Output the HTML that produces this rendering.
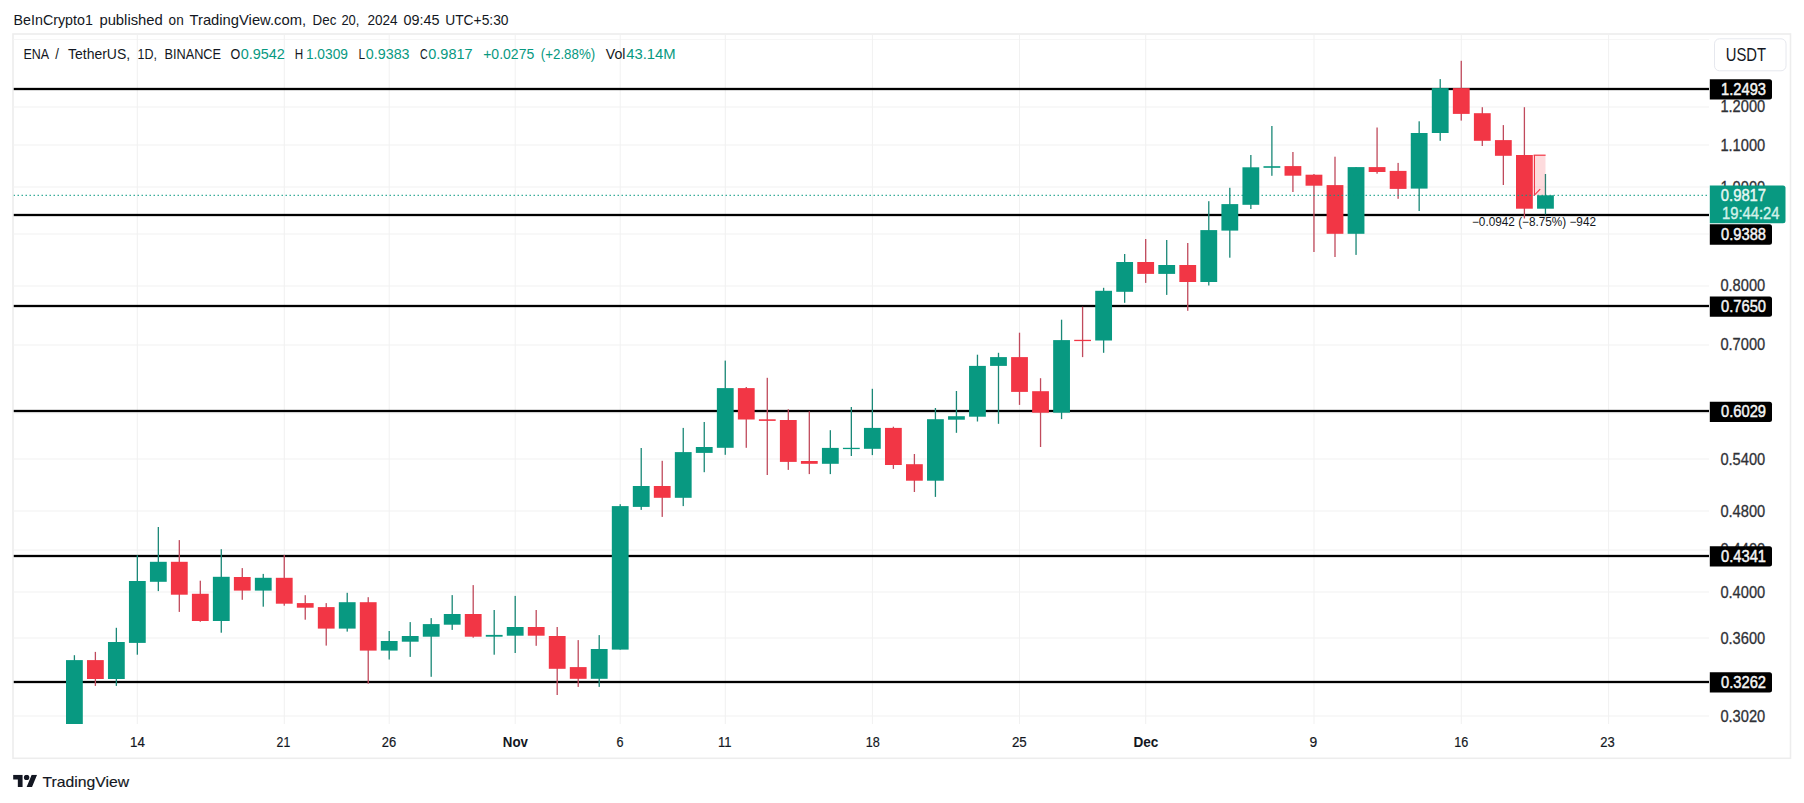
<!DOCTYPE html>
<html><head><meta charset="utf-8"><style>
html,body{margin:0;padding:0;background:#fff;width:1804px;height:803px;overflow:hidden;}
svg{position:absolute;left:0;top:0;font-family:"Liberation Sans", sans-serif;}
</style></head><body>
<svg width="1804" height="803" viewBox="0 0 1804 803">
<rect width="1804" height="803" fill="#fff"/>
<text x="13.60" y="24.8" font-size="15" fill="#131722" textLength="79.28" lengthAdjust="spacingAndGlyphs">BeInCrypto1</text>
<text x="99.40" y="24.8" font-size="15" fill="#131722" textLength="63.42" lengthAdjust="spacingAndGlyphs">published</text>
<text x="168.60" y="24.8" font-size="15" fill="#131722" textLength="15.09" lengthAdjust="spacingAndGlyphs">on</text>
<text x="189.50" y="24.8" font-size="15" fill="#131722" textLength="116.59" lengthAdjust="spacingAndGlyphs">TradingView.com,</text>
<text x="312.60" y="24.8" font-size="15" fill="#131722" textLength="23.78" lengthAdjust="spacingAndGlyphs">Dec</text>
<text x="341.40" y="24.8" font-size="15" fill="#131722" textLength="18.06" lengthAdjust="spacingAndGlyphs">20,</text>
<text x="367.40" y="24.8" font-size="15" fill="#131722" textLength="30.17" lengthAdjust="spacingAndGlyphs">2024</text>
<text x="403.40" y="24.8" font-size="15" fill="#131722" textLength="36.03" lengthAdjust="spacingAndGlyphs">09:45</text>
<text x="445.20" y="24.8" font-size="15" fill="#131722" textLength="63.38" lengthAdjust="spacingAndGlyphs">UTC+5:30</text>
<rect x="13" y="34" width="1777.5" height="724.3" fill="#fff" stroke="#ededed" stroke-width="1.6"/>
<rect x="13.5" y="39" width="1695.5" height="1" fill="#f6f6f6"/>
<defs><clipPath id="pane"><rect x="13.5" y="35" width="1695.5" height="689"/></clipPath></defs>
<g clip-path="url(#pane)">
<rect x="13.5" y="106.5" width="1695.5" height="1" fill="#f1f1f1"/>
<rect x="13.5" y="144.5" width="1695.5" height="1" fill="#f1f1f1"/>
<rect x="13.5" y="186.5" width="1695.5" height="1" fill="#f1f1f1"/>
<rect x="13.5" y="233.5" width="1695.5" height="1" fill="#f1f1f1"/>
<rect x="13.5" y="285.5" width="1695.5" height="1" fill="#f1f1f1"/>
<rect x="13.5" y="344.5" width="1695.5" height="1" fill="#f1f1f1"/>
<rect x="13.5" y="412.5" width="1695.5" height="1" fill="#f1f1f1"/>
<rect x="13.5" y="458.5" width="1695.5" height="1" fill="#f1f1f1"/>
<rect x="13.5" y="510.5" width="1695.5" height="1" fill="#f1f1f1"/>
<rect x="13.5" y="549.5" width="1695.5" height="1" fill="#f1f1f1"/>
<rect x="13.5" y="591.5" width="1695.5" height="1" fill="#f1f1f1"/>
<rect x="13.5" y="637.5" width="1695.5" height="1" fill="#f1f1f1"/>
<rect x="13.5" y="715.5" width="1695.5" height="1" fill="#f1f1f1"/>
<rect x="136.8" y="35" width="1" height="689" fill="#f1f1f1"/>
<rect x="283.8" y="35" width="1" height="689" fill="#f1f1f1"/>
<rect x="388.7" y="35" width="1" height="689" fill="#f1f1f1"/>
<rect x="514.7" y="35" width="1" height="689" fill="#f1f1f1"/>
<rect x="619.7" y="35" width="1" height="689" fill="#f1f1f1"/>
<rect x="724.8" y="35" width="1" height="689" fill="#f1f1f1"/>
<rect x="871.9" y="35" width="1" height="689" fill="#f1f1f1"/>
<rect x="1019.0" y="35" width="1" height="689" fill="#f1f1f1"/>
<rect x="1145.2" y="35" width="1" height="689" fill="#f1f1f1"/>
<rect x="1313.5" y="35" width="1" height="689" fill="#f1f1f1"/>
<rect x="1460.8" y="35" width="1" height="689" fill="#f1f1f1"/>
<rect x="1608.1" y="35" width="1" height="689" fill="#f1f1f1"/>
<rect x="13.5" y="87.85" width="1695.5" height="2.3" fill="#000"/>
<rect x="13.5" y="213.85" width="1695.5" height="2.3" fill="#000"/>
<rect x="13.5" y="304.85" width="1695.5" height="2.3" fill="#000"/>
<rect x="13.5" y="409.85" width="1695.5" height="2.3" fill="#000"/>
<rect x="13.5" y="554.85" width="1695.5" height="2.3" fill="#000"/>
<rect x="13.5" y="680.85" width="1695.5" height="2.3" fill="#000"/>
<rect x="73.75" y="655.2" width="1.3" height="68.8" fill="#1a8877"/>
<rect x="66.00" y="660.1" width="16.8" height="63.9" fill="#089981"/>
<rect x="94.73" y="651.9" width="1.3" height="34.0" fill="#c04a5c"/>
<rect x="86.98" y="660.1" width="16.8" height="18.9" fill="#F23645"/>
<rect x="115.71" y="627.8" width="1.3" height="58.1" fill="#1a8877"/>
<rect x="107.96" y="642.0" width="16.8" height="37.0" fill="#089981"/>
<rect x="136.69" y="555.2" width="1.3" height="99.5" fill="#1a8877"/>
<rect x="128.94" y="581.0" width="16.8" height="61.9" fill="#089981"/>
<rect x="157.68" y="527.0" width="1.3" height="64.1" fill="#1a8877"/>
<rect x="149.93" y="561.8" width="16.8" height="20.0" fill="#089981"/>
<rect x="178.66" y="540.1" width="1.3" height="71.8" fill="#c04a5c"/>
<rect x="170.91" y="561.8" width="16.8" height="32.9" fill="#F23645"/>
<rect x="199.65" y="580.7" width="1.3" height="41.1" fill="#c04a5c"/>
<rect x="191.90" y="593.8" width="16.8" height="27.2" fill="#F23645"/>
<rect x="220.63" y="549.2" width="1.3" height="83.5" fill="#1a8877"/>
<rect x="212.88" y="576.8" width="16.8" height="44.2" fill="#089981"/>
<rect x="241.62" y="568.1" width="1.3" height="31.7" fill="#c04a5c"/>
<rect x="233.87" y="577.0" width="16.8" height="13.6" fill="#F23645"/>
<rect x="262.61" y="573.9" width="1.3" height="32.8" fill="#1a8877"/>
<rect x="254.86" y="577.8" width="16.8" height="12.8" fill="#089981"/>
<rect x="283.60" y="554.9" width="1.3" height="50.8" fill="#c04a5c"/>
<rect x="275.85" y="577.8" width="16.8" height="25.9" fill="#F23645"/>
<rect x="304.59" y="595.2" width="1.3" height="24.5" fill="#c04a5c"/>
<rect x="296.84" y="603.1" width="16.8" height="4.6" fill="#F23645"/>
<rect x="325.58" y="603.1" width="1.3" height="42.5" fill="#c04a5c"/>
<rect x="317.83" y="607.1" width="16.8" height="21.5" fill="#F23645"/>
<rect x="346.57" y="592.8" width="1.3" height="38.8" fill="#1a8877"/>
<rect x="338.82" y="602.2" width="16.8" height="26.4" fill="#089981"/>
<rect x="367.57" y="597.2" width="1.3" height="86.5" fill="#c04a5c"/>
<rect x="359.82" y="602.2" width="16.8" height="48.4" fill="#F23645"/>
<rect x="388.56" y="631.0" width="1.3" height="28.5" fill="#1a8877"/>
<rect x="380.81" y="641.0" width="16.8" height="9.6" fill="#089981"/>
<rect x="409.56" y="622.1" width="1.3" height="34.8" fill="#1a8877"/>
<rect x="401.81" y="636.0" width="16.8" height="5.7" fill="#089981"/>
<rect x="430.55" y="618.1" width="1.3" height="58.7" fill="#1a8877"/>
<rect x="422.80" y="624.1" width="16.8" height="12.6" fill="#089981"/>
<rect x="451.55" y="595.1" width="1.3" height="34.8" fill="#1a8877"/>
<rect x="443.80" y="614.0" width="16.8" height="10.7" fill="#089981"/>
<rect x="472.55" y="585.1" width="1.3" height="52.6" fill="#c04a5c"/>
<rect x="464.80" y="614.0" width="16.8" height="22.7" fill="#F23645"/>
<rect x="493.55" y="610.0" width="1.3" height="44.7" fill="#1a8877"/>
<rect x="485.80" y="634.9" width="16.8" height="1.8" fill="#089981"/>
<rect x="514.55" y="595.9" width="1.3" height="57.1" fill="#1a8877"/>
<rect x="506.80" y="627.0" width="16.8" height="8.7" fill="#089981"/>
<rect x="535.55" y="610.0" width="1.3" height="35.8" fill="#c04a5c"/>
<rect x="527.80" y="627.0" width="16.8" height="8.7" fill="#F23645"/>
<rect x="556.55" y="627.0" width="1.3" height="68.0" fill="#c04a5c"/>
<rect x="548.80" y="636.0" width="16.8" height="32.8" fill="#F23645"/>
<rect x="577.56" y="640.1" width="1.3" height="46.8" fill="#c04a5c"/>
<rect x="569.81" y="667.1" width="16.8" height="11.7" fill="#F23645"/>
<rect x="598.56" y="635.1" width="1.3" height="51.8" fill="#1a8877"/>
<rect x="590.81" y="649.0" width="16.8" height="29.8" fill="#089981"/>
<rect x="619.57" y="504.2" width="1.3" height="145.4" fill="#1a8877"/>
<rect x="611.82" y="506.1" width="16.8" height="143.5" fill="#089981"/>
<rect x="640.57" y="448.0" width="1.3" height="61.9" fill="#1a8877"/>
<rect x="632.82" y="486.0" width="16.8" height="20.9" fill="#089981"/>
<rect x="661.58" y="460.8" width="1.3" height="56.1" fill="#c04a5c"/>
<rect x="653.83" y="486.0" width="16.8" height="11.8" fill="#F23645"/>
<rect x="682.59" y="427.9" width="1.3" height="78.2" fill="#1a8877"/>
<rect x="674.84" y="452.1" width="16.8" height="45.7" fill="#089981"/>
<rect x="703.60" y="422.0" width="1.3" height="50.2" fill="#1a8877"/>
<rect x="695.85" y="447.0" width="16.8" height="5.9" fill="#089981"/>
<rect x="724.61" y="360.6" width="1.3" height="94.2" fill="#1a8877"/>
<rect x="716.86" y="388.1" width="16.8" height="59.7" fill="#089981"/>
<rect x="745.62" y="387.0" width="1.3" height="60.8" fill="#c04a5c"/>
<rect x="737.87" y="388.1" width="16.8" height="31.4" fill="#F23645"/>
<rect x="766.63" y="377.8" width="1.3" height="97.2" fill="#c04a5c"/>
<rect x="758.88" y="419.3" width="16.8" height="1.6" fill="#F23645"/>
<rect x="787.65" y="409.2" width="1.3" height="60.7" fill="#c04a5c"/>
<rect x="779.90" y="420.0" width="16.8" height="41.9" fill="#F23645"/>
<rect x="808.66" y="411.3" width="1.3" height="62.8" fill="#c04a5c"/>
<rect x="800.91" y="461.0" width="16.8" height="2.8" fill="#F23645"/>
<rect x="829.68" y="430.2" width="1.3" height="43.9" fill="#1a8877"/>
<rect x="821.93" y="447.9" width="16.8" height="15.9" fill="#089981"/>
<rect x="850.69" y="407.0" width="1.3" height="49.0" fill="#1a8877"/>
<rect x="842.94" y="447.8" width="16.8" height="1.3" fill="#089981"/>
<rect x="871.71" y="388.8" width="1.3" height="66.3" fill="#1a8877"/>
<rect x="863.96" y="427.9" width="16.8" height="20.9" fill="#089981"/>
<rect x="892.73" y="426.7" width="1.3" height="42.2" fill="#c04a5c"/>
<rect x="884.98" y="427.9" width="16.8" height="37.1" fill="#F23645"/>
<rect x="913.75" y="454.0" width="1.3" height="38.0" fill="#c04a5c"/>
<rect x="906.00" y="464.2" width="16.8" height="16.5" fill="#F23645"/>
<rect x="934.77" y="408.0" width="1.3" height="88.9" fill="#1a8877"/>
<rect x="927.02" y="419.2" width="16.8" height="61.5" fill="#089981"/>
<rect x="955.79" y="391.0" width="1.3" height="41.8" fill="#1a8877"/>
<rect x="948.04" y="416.2" width="16.8" height="3.5" fill="#089981"/>
<rect x="976.81" y="354.7" width="1.3" height="66.8" fill="#1a8877"/>
<rect x="969.06" y="365.9" width="16.8" height="50.8" fill="#089981"/>
<rect x="997.84" y="352.8" width="1.3" height="71.0" fill="#1a8877"/>
<rect x="990.09" y="357.1" width="16.8" height="8.8" fill="#089981"/>
<rect x="1018.86" y="332.7" width="1.3" height="72.2" fill="#c04a5c"/>
<rect x="1011.11" y="357.1" width="16.8" height="34.8" fill="#F23645"/>
<rect x="1039.89" y="378.2" width="1.3" height="68.8" fill="#c04a5c"/>
<rect x="1032.14" y="391.2" width="16.8" height="21.5" fill="#F23645"/>
<rect x="1060.91" y="319.7" width="1.3" height="99.4" fill="#1a8877"/>
<rect x="1053.16" y="340.1" width="16.8" height="72.6" fill="#089981"/>
<rect x="1081.94" y="306.7" width="1.3" height="50.4" fill="#c04a5c"/>
<rect x="1074.19" y="339.8" width="16.8" height="1.3" fill="#F23645"/>
<rect x="1102.97" y="287.8" width="1.3" height="65.0" fill="#1a8877"/>
<rect x="1095.22" y="290.8" width="16.8" height="49.7" fill="#089981"/>
<rect x="1124.00" y="254.0" width="1.3" height="48.8" fill="#1a8877"/>
<rect x="1116.25" y="262.0" width="16.8" height="29.8" fill="#089981"/>
<rect x="1145.03" y="239.0" width="1.3" height="43.9" fill="#c04a5c"/>
<rect x="1137.28" y="262.0" width="16.8" height="11.9" fill="#F23645"/>
<rect x="1166.06" y="240.0" width="1.3" height="54.9" fill="#1a8877"/>
<rect x="1158.31" y="265.0" width="16.8" height="8.9" fill="#089981"/>
<rect x="1187.09" y="243.0" width="1.3" height="67.8" fill="#c04a5c"/>
<rect x="1179.34" y="265.0" width="16.8" height="17.0" fill="#F23645"/>
<rect x="1208.13" y="201.2" width="1.3" height="84.3" fill="#1a8877"/>
<rect x="1200.38" y="230.1" width="16.8" height="51.9" fill="#089981"/>
<rect x="1229.16" y="187.8" width="1.3" height="69.9" fill="#1a8877"/>
<rect x="1221.41" y="204.1" width="16.8" height="26.5" fill="#089981"/>
<rect x="1250.20" y="155.0" width="1.3" height="54.0" fill="#1a8877"/>
<rect x="1242.45" y="167.3" width="16.8" height="37.5" fill="#089981"/>
<rect x="1271.23" y="126.0" width="1.3" height="49.8" fill="#1a8877"/>
<rect x="1263.48" y="166.2" width="16.8" height="1.6" fill="#089981"/>
<rect x="1292.27" y="152.0" width="1.3" height="40.0" fill="#c04a5c"/>
<rect x="1284.52" y="166.1" width="16.8" height="9.6" fill="#F23645"/>
<rect x="1313.31" y="174.0" width="1.3" height="78.0" fill="#c04a5c"/>
<rect x="1305.56" y="174.7" width="16.8" height="11.0" fill="#F23645"/>
<rect x="1334.35" y="156.7" width="1.3" height="100.3" fill="#c04a5c"/>
<rect x="1326.60" y="185.1" width="16.8" height="48.7" fill="#F23645"/>
<rect x="1355.39" y="167.1" width="1.3" height="87.8" fill="#1a8877"/>
<rect x="1347.64" y="167.1" width="16.8" height="66.7" fill="#089981"/>
<rect x="1376.43" y="127.5" width="1.3" height="46.2" fill="#c04a5c"/>
<rect x="1368.68" y="167.1" width="16.8" height="4.9" fill="#F23645"/>
<rect x="1397.47" y="162.9" width="1.3" height="35.9" fill="#c04a5c"/>
<rect x="1389.72" y="170.9" width="16.8" height="18.0" fill="#F23645"/>
<rect x="1418.52" y="121.3" width="1.3" height="89.7" fill="#1a8877"/>
<rect x="1410.77" y="133.0" width="16.8" height="55.6" fill="#089981"/>
<rect x="1439.56" y="79.1" width="1.3" height="61.7" fill="#1a8877"/>
<rect x="1431.81" y="88.1" width="16.8" height="44.9" fill="#089981"/>
<rect x="1460.61" y="60.8" width="1.3" height="59.8" fill="#c04a5c"/>
<rect x="1452.86" y="88.1" width="16.8" height="25.8" fill="#F23645"/>
<rect x="1481.65" y="107.2" width="1.3" height="38.8" fill="#c04a5c"/>
<rect x="1473.90" y="113.2" width="16.8" height="27.6" fill="#F23645"/>
<rect x="1502.70" y="125.1" width="1.3" height="59.9" fill="#c04a5c"/>
<rect x="1494.95" y="140.1" width="16.8" height="15.7" fill="#F23645"/>
<rect x="1523.75" y="107.2" width="1.3" height="111.3" fill="#c04a5c"/>
<rect x="1516.00" y="155.0" width="16.8" height="53.7" fill="#F23645"/>
<rect x="1544.80" y="174.0" width="1.3" height="40.4" fill="#1a8877"/>
<rect x="1537.05" y="195.3" width="16.8" height="13.4" fill="#089981"/>
<line x1="13.5" y1="195.3" x2="1709" y2="195.3" stroke="#089981" stroke-width="1" stroke-dasharray="1.5 2.5"/>
<rect x="1534" y="155.1" width="11.5" height="40.1" fill="rgba(242,54,69,0.18)"/>
<rect x="1533.6" y="154.6" width="12" height="1.2" fill="#F23645"/>
<rect x="1533.8" y="155" width="1.2" height="40.3" fill="#F23645"/>
<line x1="1534.4" y1="195.2" x2="1540.2" y2="189.2" stroke="#F23645" stroke-width="1.1"/>
<text x="1472" y="225.5" font-size="12" fill="#131722" textLength="124" lengthAdjust="spacingAndGlyphs">−0.0942 (−8.75%) −942</text>
</g>
<text x="23.50" y="58.6" font-size="15" fill="#131722" textLength="25.64" lengthAdjust="spacingAndGlyphs">ENA</text>
<text x="55.20" y="58.6" font-size="15" fill="#131722" textLength="3.67" lengthAdjust="spacingAndGlyphs">/</text>
<text x="68.00" y="58.6" font-size="15" fill="#131722" textLength="62.19" lengthAdjust="spacingAndGlyphs">TetherUS,</text>
<text x="137.60" y="58.6" font-size="15" fill="#131722" textLength="19.44" lengthAdjust="spacingAndGlyphs">1D,</text>
<text x="164.40" y="58.6" font-size="15" fill="#131722" textLength="56.68" lengthAdjust="spacingAndGlyphs">BINANCE</text>
<text x="230.50" y="58.6" font-size="15" fill="#131722" textLength="9.77" lengthAdjust="spacingAndGlyphs">O</text>
<text x="240.70" y="58.6" font-size="15" fill="#089981" textLength="44.18" lengthAdjust="spacingAndGlyphs">0.9542</text>
<text x="294.80" y="58.6" font-size="15" fill="#131722" textLength="8.43" lengthAdjust="spacingAndGlyphs">H</text>
<text x="305.90" y="58.6" font-size="15" fill="#089981" textLength="42.08" lengthAdjust="spacingAndGlyphs">1.0309</text>
<text x="358.60" y="58.6" font-size="15" fill="#131722" textLength="6.63" lengthAdjust="spacingAndGlyphs">L</text>
<text x="365.80" y="58.6" font-size="15" fill="#089981" textLength="43.78" lengthAdjust="spacingAndGlyphs">0.9383</text>
<text x="420.00" y="58.6" font-size="15" fill="#131722" textLength="7.72" lengthAdjust="spacingAndGlyphs">C</text>
<text x="428.30" y="58.6" font-size="15" fill="#089981" textLength="44.28" lengthAdjust="spacingAndGlyphs">0.9817</text>
<text x="483.20" y="58.6" font-size="15" fill="#089981" textLength="51.04" lengthAdjust="spacingAndGlyphs">+0.0275</text>
<text x="540.80" y="58.6" font-size="15" fill="#089981" textLength="54.38" lengthAdjust="spacingAndGlyphs">(+2.88%)</text>
<text x="605.80" y="58.6" font-size="15" fill="#131722" textLength="19.65" lengthAdjust="spacingAndGlyphs">Vol</text>
<text x="626.20" y="58.6" font-size="15" fill="#089981" textLength="49.53" lengthAdjust="spacingAndGlyphs">43.14M</text>
<text x="1720.4" y="112.4" font-size="16" fill="#2f3136" stroke="#2f3136" stroke-width="0.3" textLength="44.8" lengthAdjust="spacingAndGlyphs">1.2000</text>
<text x="1720.4" y="150.8" font-size="16" fill="#2f3136" stroke="#2f3136" stroke-width="0.3" textLength="44.8" lengthAdjust="spacingAndGlyphs">1.1000</text>
<text x="1720.4" y="192.9" font-size="16" fill="#2f3136" stroke="#2f3136" stroke-width="0.3" textLength="44.8" lengthAdjust="spacingAndGlyphs">1.0000</text>
<text x="1720.4" y="291.4" font-size="16" fill="#2f3136" stroke="#2f3136" stroke-width="0.3" textLength="44.8" lengthAdjust="spacingAndGlyphs">0.8000</text>
<text x="1720.4" y="350.4" font-size="16" fill="#2f3136" stroke="#2f3136" stroke-width="0.3" textLength="44.8" lengthAdjust="spacingAndGlyphs">0.7000</text>
<text x="1720.4" y="465.0" font-size="16" fill="#2f3136" stroke="#2f3136" stroke-width="0.3" textLength="44.8" lengthAdjust="spacingAndGlyphs">0.5400</text>
<text x="1720.4" y="517.0" font-size="16" fill="#2f3136" stroke="#2f3136" stroke-width="0.3" textLength="44.8" lengthAdjust="spacingAndGlyphs">0.4800</text>
<text x="1720.4" y="555.4" font-size="16" fill="#2f3136" stroke="#2f3136" stroke-width="0.3" textLength="44.8" lengthAdjust="spacingAndGlyphs">0.4400</text>
<text x="1720.4" y="597.5" font-size="16" fill="#2f3136" stroke="#2f3136" stroke-width="0.3" textLength="44.8" lengthAdjust="spacingAndGlyphs">0.4000</text>
<text x="1720.4" y="644.1" font-size="16" fill="#2f3136" stroke="#2f3136" stroke-width="0.3" textLength="44.8" lengthAdjust="spacingAndGlyphs">0.3600</text>
<text x="1720.4" y="721.6" font-size="16" fill="#2f3136" stroke="#2f3136" stroke-width="0.3" textLength="44.8" lengthAdjust="spacingAndGlyphs">0.3020</text>
<path d="M1709.8 79.3 H1769.5 a2.5 2.5 0 0 1 2.5 2.5 V97.1 a2.5 2.5 0 0 1 -2.5 2.5 H1709.8 Z" fill="#000"/>
<text x="1721" y="94.8" font-size="15.8" fill="#f6f6f6" stroke="#f6f6f6" stroke-width="0.45" textLength="45" lengthAdjust="spacingAndGlyphs">1.2493</text>
<path d="M1709.8 296.4 H1769.5 a2.5 2.5 0 0 1 2.5 2.5 V314.3 a2.5 2.5 0 0 1 -2.5 2.5 H1709.8 Z" fill="#000"/>
<text x="1721" y="312.0" font-size="15.8" fill="#f6f6f6" stroke="#f6f6f6" stroke-width="0.45" textLength="45" lengthAdjust="spacingAndGlyphs">0.7650</text>
<path d="M1709.8 401.8 H1769.5 a2.5 2.5 0 0 1 2.5 2.5 V419.5 a2.5 2.5 0 0 1 -2.5 2.5 H1709.8 Z" fill="#000"/>
<text x="1721" y="417.3" font-size="15.8" fill="#f6f6f6" stroke="#f6f6f6" stroke-width="0.45" textLength="45" lengthAdjust="spacingAndGlyphs">0.6029</text>
<path d="M1709.8 546.2 H1769.5 a2.5 2.5 0 0 1 2.5 2.5 V564.0 a2.5 2.5 0 0 1 -2.5 2.5 H1709.8 Z" fill="#000"/>
<text x="1721" y="561.8" font-size="15.8" fill="#f6f6f6" stroke="#f6f6f6" stroke-width="0.45" textLength="45" lengthAdjust="spacingAndGlyphs">0.4341</text>
<path d="M1709.8 672.2 H1769.5 a2.5 2.5 0 0 1 2.5 2.5 V689.9 a2.5 2.5 0 0 1 -2.5 2.5 H1709.8 Z" fill="#000"/>
<text x="1721" y="687.7" font-size="15.8" fill="#f6f6f6" stroke="#f6f6f6" stroke-width="0.45" textLength="45" lengthAdjust="spacingAndGlyphs">0.3262</text>
<path d="M1709.8 224.2 H1769.5 a2.5 2.5 0 0 1 2.5 2.5 V242.3 a2.5 2.5 0 0 1 -2.5 2.5 H1709.8 Z" fill="#000"/>
<text x="1721" y="239.9" font-size="15.8" fill="#f6f6f6" stroke="#f6f6f6" stroke-width="0.45" textLength="45" lengthAdjust="spacingAndGlyphs">0.9388</text>
<path d="M1709.8 185.4 H1783 a2.5 2.5 0 0 1 2.5 2.5 V220.7 a2.5 2.5 0 0 1 -2.5 2.5 H1709.8 Z" fill="#089981"/>
<text x="1720.8" y="200.9" font-size="15.8" fill="#e8f8f4" stroke="#e8f8f4" stroke-width="0.4" textLength="45.3" lengthAdjust="spacingAndGlyphs">0.9817</text>
<text x="1722" y="218.8" font-size="15.8" fill="#d2f2ea" stroke="#d2f2ea" stroke-width="0.4" textLength="57.5" lengthAdjust="spacingAndGlyphs">19:44:24</text>
<rect x="1714.5" y="38.8" width="71.5" height="32" rx="5" fill="#fff" stroke="#e6e8ee" stroke-width="1"/>
<text x="1725.70" y="61" font-size="17.5" fill="#131722" textLength="40.33" lengthAdjust="spacingAndGlyphs">USDT</text>
<text x="130.10" y="747.1" font-size="15.5" fill="#131722" textLength="14.83" lengthAdjust="spacingAndGlyphs" stroke="#131722" stroke-width="0.2">14</text>
<text x="276.60" y="747.1" font-size="15.5" fill="#131722" textLength="13.63" lengthAdjust="spacingAndGlyphs" stroke="#131722" stroke-width="0.2">21</text>
<text x="381.70" y="747.1" font-size="15.5" fill="#131722" textLength="14.43" lengthAdjust="spacingAndGlyphs" stroke="#131722" stroke-width="0.2">26</text>
<text x="502.80" y="747.1" font-size="15.5" fill="#131722" textLength="25.19" lengthAdjust="spacingAndGlyphs" font-weight="bold">Nov</text>
<text x="616.40" y="747.1" font-size="15.5" fill="#131722" textLength="7.02" lengthAdjust="spacingAndGlyphs" stroke="#131722" stroke-width="0.2">6</text>
<text x="718.00" y="747.1" font-size="15.5" fill="#131722" textLength="13.49" lengthAdjust="spacingAndGlyphs" stroke="#131722" stroke-width="0.2">11</text>
<text x="865.70" y="747.1" font-size="15.5" fill="#131722" textLength="14.03" lengthAdjust="spacingAndGlyphs" stroke="#131722" stroke-width="0.2">18</text>
<text x="1011.90" y="747.1" font-size="15.5" fill="#131722" textLength="14.83" lengthAdjust="spacingAndGlyphs" stroke="#131722" stroke-width="0.2">25</text>
<text x="1133.40" y="747.1" font-size="15.5" fill="#131722" textLength="24.93" lengthAdjust="spacingAndGlyphs" font-weight="bold">Dec</text>
<text x="1309.50" y="747.1" font-size="15.5" fill="#131722" textLength="7.72" lengthAdjust="spacingAndGlyphs" stroke="#131722" stroke-width="0.2">9</text>
<text x="1454.20" y="747.1" font-size="15.5" fill="#131722" textLength="14.03" lengthAdjust="spacingAndGlyphs" stroke="#131722" stroke-width="0.2">16</text>
<text x="1600.30" y="747.1" font-size="15.5" fill="#131722" textLength="14.43" lengthAdjust="spacingAndGlyphs" stroke="#131722" stroke-width="0.2">23</text>
<svg x="13.1" y="774.7" width="24" height="12.2" viewBox="0 4 35.5 18" preserveAspectRatio="none"><path d="M14 22H7V11H0V4h14v18zM28 22h-8l7.5-18h8L28 22z" fill="#131722"/><circle cx="20" cy="8" r="4" fill="#131722"/></svg>
<text x="42.40" y="786.7" font-size="15" fill="#131722" textLength="86.74" lengthAdjust="spacingAndGlyphs" stroke="#131722" stroke-width="0.15">TradingView</text>
</svg>
</body></html>
